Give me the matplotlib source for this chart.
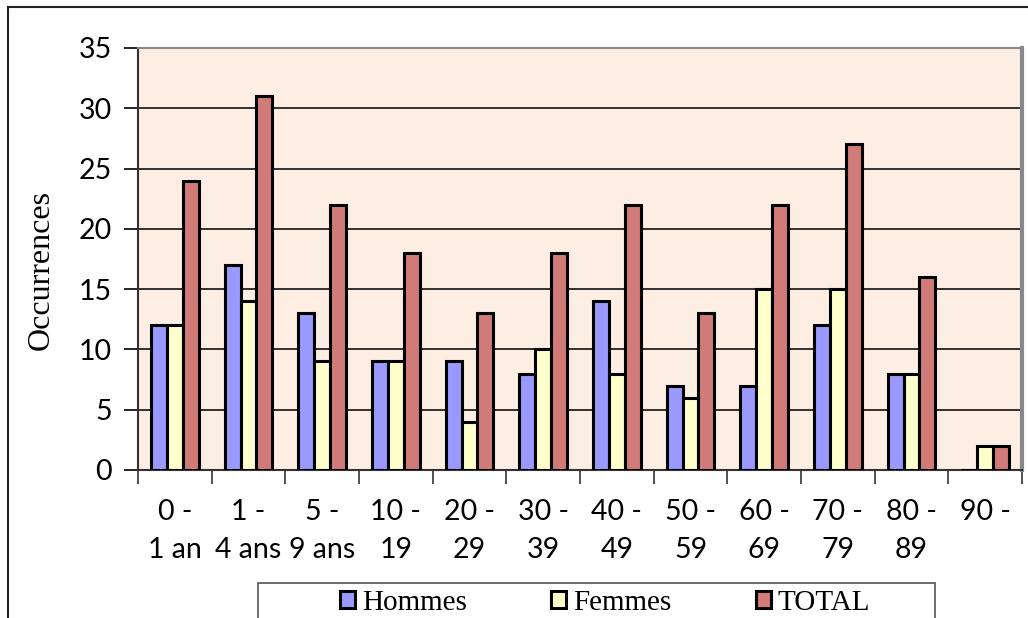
import matplotlib
matplotlib.use("Agg")
import matplotlib.pyplot as plt
import numpy as np
from matplotlib.patches import Rectangle

categories = ["0 -\n1 an", "1 -\n4 ans", "5 -\n9 ans", "10 -\n19", "20 -\n29", "30 -\n39",
              "40 -\n49", "50 -\n59", "60 -\n69", "70 -\n79", "80 -\n89", "90 -\n"]
hommes = [12, 17, 13, 9, 9, 8, 14, 7, 7, 12, 8, 0]
femmes = [12, 14, 9, 9, 4, 10, 8, 6, 15, 15, 8, 2]
total = [24, 31, 22, 18, 13, 18, 22, 13, 22, 27, 16, 2]
series_names = ["Hommes", "Femmes", "TOTAL"]
colors = ["#9999FF", "#FFFFCC", "#D07B78"]

fig = plt.figure(figsize=(10.28, 6.18), dpi=100)
W, H = 1028, 618
ax = fig.add_axes([138 / W, 1 - 470 / H, (1022 - 138) / W, (470 - 48) / H])
ax.set_facecolor("#FCEEE3")

x = np.arange(len(categories))
bw = 0.217
handles = []
for i, (vals, c, name) in enumerate(zip([hommes, femmes, total], colors, series_names)):
    b = ax.bar(x - bw + i * bw, vals, width=bw, color=c, edgecolor="black", linewidth=2.2,
               label=name, zorder=3)
    handles.append(b)

ax.set_xlim(-0.5, len(categories) - 0.5)
ax.set_ylim(0, 35)
ax.set_yticks(range(0, 36, 5))
ax.set_xticks(x)
ax.set_xticklabels(categories, fontfamily="Lato", fontsize=20.5, linespacing=1.55)
ax.set_xticks(np.arange(-0.5, len(categories), 1), minor=True)
ax.tick_params(axis="x", which="major", length=0, pad=21)
ax.tick_params(axis="x", which="minor", length=10, width=1.2, color="#333333")
ax.tick_params(axis="y", length=10, width=1.2, labelsize=20.5, pad=9)
for lab in ax.get_yticklabels():
    lab.set_fontfamily("Lato")
ax.yaxis.grid(True, color="#222222", linewidth=1.3, zorder=1)
ax.set_axisbelow(True)

ax.spines["top"].set_color("#888888")
ax.spines["top"].set_linewidth(1.5)
ax.spines["right"].set_color("#888888")
ax.spines["right"].set_linewidth(3)
ax.spines["left"].set_color("#333333")
ax.spines["left"].set_linewidth(1.5)
ax.spines["bottom"].set_color("#333333")
ax.spines["bottom"].set_linewidth(1.5)

fig.text(41 / W, 1 - 270 / H, "Occurrences", rotation=90, ha="center", va="center",
         fontfamily="Liberation Serif", fontsize=23)

# outer chart border
fig.patches.append(Rectangle((8 / W, -0.1), 1.2, 1 - 7 / H + 0.1, transform=fig.transFigure,
                             fill=False, edgecolor="#222222", linewidth=1.5))
# legend box
fig.patches.append(Rectangle((258 / W, -0.1), (935 - 258) / W, 0.1 + 1 - 583 / H,
                             transform=fig.transFigure, fill=False, edgecolor="#555555",
                             linewidth=1.2))

leg = fig.legend(handles=handles, labels=series_names, loc="center left",
                 bbox_to_anchor=(340 / W, 1 - 603 / H), ncol=3,
                 prop={"family": "Liberation Serif", "size": 21}, frameon=False,
                 handlelength=0.5, handleheight=0.5,
                 handletextpad=0.25, columnspacing=2.9, borderpad=0, borderaxespad=0)

fig.savefig("out.png", dpi=100)
